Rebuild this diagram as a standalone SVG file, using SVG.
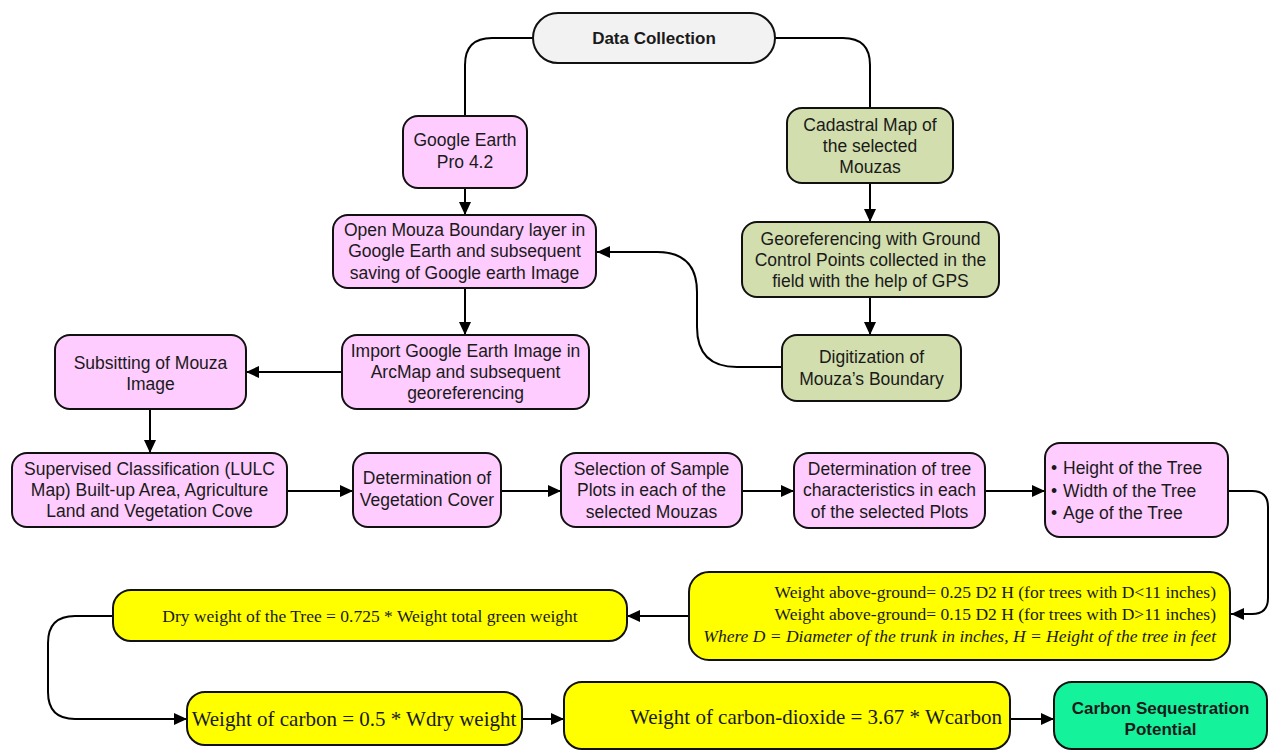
<svg xmlns="http://www.w3.org/2000/svg" width="1274" height="751" viewBox="0 0 1274 751">
<defs>
<marker id="ah" markerUnits="userSpaceOnUse" markerWidth="13" markerHeight="12" refX="13" refY="6" orient="auto">
<path d="M0,0 L13,6 L0,12 z" fill="#000"/>
</marker>
<style>
.pk{fill:#FFCCFF;stroke:#111;stroke-width:2}
.ol{fill:#D2DEAD;stroke:#111;stroke-width:2}
.yl{fill:#FFFF00;stroke:#111;stroke-width:2}
.gr{fill:#14F39C;stroke:#111;stroke-width:2}
.gy{fill:#F2F2F2;stroke:#111;stroke-width:2}
.t{font-family:"Liberation Sans",Arial,sans-serif;font-size:17.5px;fill:#1a1a1a;text-anchor:middle}
.b{font-weight:bold;font-size:17px}
.s{font-family:"Liberation Serif","Times New Roman",serif;font-size:17.5px;fill:#1a1a1a}
.s2{font-family:"Liberation Serif","Times New Roman",serif;font-size:21px;fill:#1a1a1a}
.c{fill:none;stroke:#000;stroke-width:2}
</style>
</defs>
<rect width="1274" height="751" fill="#fff"/>

<g id="connectors">
<path class="c" d="M533,38 H492 Q465,38 465,65 V116"/>
<path class="c" d="M775,38 H843 Q870,38 870,65 V108"/>
<path class="c" d="M465,188 V215" marker-end="url(#ah)"/>
<path class="c" d="M870,183 V222" marker-end="url(#ah)"/>
<path class="c" d="M465,288 V335" marker-end="url(#ah)"/>
<path class="c" d="M870,297 V335" marker-end="url(#ah)"/>
<path class="c" d="M782,367 H737 Q697,367 697,327 V292 Q697,252 657,252 H597" marker-end="url(#ah)"/>
<path class="c" d="M342,372 H246" marker-end="url(#ah)"/>
<path class="c" d="M150,409 V453" marker-end="url(#ah)"/>
<path class="c" d="M287,491 H353" marker-end="url(#ah)"/>
<path class="c" d="M501,491 H561" marker-end="url(#ah)"/>
<path class="c" d="M742,491 H794" marker-end="url(#ah)"/>
<path class="c" d="M985,491 H1045" marker-end="url(#ah)"/>
<path class="c" d="M1228,491 H1252 Q1268,491 1268,507 V598 Q1268,614 1252,614 H1231" marker-end="url(#ah)"/>
<path class="c" d="M689,616 H627" marker-end="url(#ah)"/>
<path class="c" d="M113,616 H75 Q48,616 48,643 V692 Q48,719 75,719 H187" marker-end="url(#ah)"/>
<path class="c" d="M522,719 H564" marker-end="url(#ah)"/>
<path class="c" d="M1010,719 H1054" marker-end="url(#ah)"/>
</g>

<g id="data-collection">
<rect class="gy" x="533" y="13" width="242" height="50" rx="25"/>
<text class="t b" x="654" y="44">Data Collection</text>
</g>

<g id="google-earth">
<rect class="pk" x="403" y="116" width="124" height="72" rx="15"/>
<text class="t" x="465" y="146">Google Earth</text>
<text class="t" x="465" y="168">Pro 4.2</text>
</g>

<g id="cadastral">
<rect class="ol" x="787" y="108" width="166" height="75" rx="15"/>
<text class="t" x="870" y="131">Cadastral Map of</text>
<text class="t" x="870" y="152">the selected</text>
<text class="t" x="870" y="173">Mouzas</text>
</g>

<g id="open-mouza">
<rect class="pk" x="333" y="215" width="263" height="73" rx="15"/>
<text class="t" x="464.5" y="236">Open Mouza Boundary layer in</text>
<text class="t" x="464.5" y="257">Google Earth and subsequent</text>
<text class="t" x="464.5" y="279">saving of Google earth Image</text>
</g>

<g id="georeferencing">
<rect class="ol" x="742" y="222" width="257" height="75" rx="15"/>
<text class="t" x="870.5" y="245">Georeferencing with Ground</text>
<text class="t" x="870.5" y="266">Control Points collected in the</text>
<text class="t" x="870.5" y="287">field with the help of GPS</text>
</g>

<g id="digitization">
<rect class="ol" x="782" y="335" width="179" height="66" rx="15"/>
<text class="t" x="871.5" y="363">Digitization of</text>
<text class="t" x="871.5" y="385">Mouza’s Boundary</text>
</g>

<g id="import">
<rect class="pk" x="342" y="335" width="247" height="74" rx="15"/>
<text class="t" x="465.5" y="357">Import Google Earth Image in</text>
<text class="t" x="465.5" y="378">ArcMap and subsequent</text>
<text class="t" x="465.5" y="399">georeferencing</text>
</g>

<g id="subsitting">
<rect class="pk" x="55" y="335" width="191" height="74" rx="15"/>
<text class="t" x="150.5" y="369">Subsitting of Mouza</text>
<text class="t" x="150.5" y="390">Image</text>
</g>

<g id="supervised">
<rect class="pk" x="12" y="453" width="275" height="74" rx="15"/>
<text class="t" x="149.5" y="475">Supervised Classification (LULC</text>
<text class="t" x="149.5" y="496">Map) Built-up Area, Agriculture</text>
<text class="t" x="149.5" y="517">Land and Vegetation Cove</text>
</g>

<g id="vegetation">
<rect class="pk" x="353" y="453" width="148" height="74" rx="15"/>
<text class="t" x="427" y="484">Determination of</text>
<text class="t" x="427" y="506">Vegetation Cover</text>
</g>

<g id="selection">
<rect class="pk" x="561" y="453" width="181" height="74" rx="15"/>
<text class="t" x="651.5" y="475">Selection of Sample</text>
<text class="t" x="651.5" y="496">Plots in each of the</text>
<text class="t" x="651.5" y="518">selected Mouzas</text>
</g>

<g id="tree-characteristics">
<rect class="pk" x="794" y="453" width="191" height="75" rx="15"/>
<text class="t" x="889.5" y="475">Determination of tree</text>
<text class="t" x="889.5" y="496">characteristics in each</text>
<text class="t" x="889.5" y="518">of the selected Plots</text>
</g>

<g id="tree-attributes">
<rect class="pk" x="1045" y="443" width="183" height="94" rx="15"/>
<text class="t" x="1051" y="474" style="text-anchor:start">•</text>
<text class="t" x="1063" y="474" style="text-anchor:start">Height of the Tree</text>
<text class="t" x="1051" y="497" style="text-anchor:start">•</text>
<text class="t" x="1063" y="497" style="text-anchor:start">Width of the Tree</text>
<text class="t" x="1051" y="519" style="text-anchor:start">•</text>
<text class="t" x="1063" y="519" style="text-anchor:start">Age of the Tree</text>
</g>

<g id="weight-above-ground">
<rect class="yl" x="689" y="572" width="541" height="88" rx="20"/>
<text class="s" x="1216" y="598" text-anchor="end">Weight above-ground= 0.25 D2 H (for trees with D&lt;11 inches)</text>
<text class="s" x="1216" y="620" text-anchor="end">Weight above-ground= 0.15 D2 H (for trees with D&gt;11 inches)</text>
<text class="s" x="1216" y="642" text-anchor="end" font-style="italic">Where D = Diameter of the trunk in inches, H = Height of the tree in feet</text>
</g>

<g id="dry-weight">
<rect class="yl" x="113" y="590" width="514" height="51" rx="18"/>
<text class="s" x="370" y="622" text-anchor="middle">Dry weight of the Tree = 0.725 * Weight total green weight</text>
</g>

<g id="carbon-weight">
<rect class="yl" x="187" y="692" width="335" height="53" rx="18"/>
<text class="s2" x="354" y="726" text-anchor="middle">Weight of carbon = 0.5 * Wdry weight</text>
</g>

<g id="co2-weight">
<rect class="yl" x="564" y="682" width="446" height="67" rx="18"/>
<text class="s2" x="630" y="724">Weight of carbon-dioxide = 3.67 * Wcarbon</text>
</g>

<g id="carbon-sequestration">
<rect class="gr" x="1054" y="682" width="213" height="67" rx="18"/>
<text class="t b" x="1160.5" y="714">Carbon Sequestration</text>
<text class="t b" x="1160.5" y="735">Potential</text>
</g>
</svg>
